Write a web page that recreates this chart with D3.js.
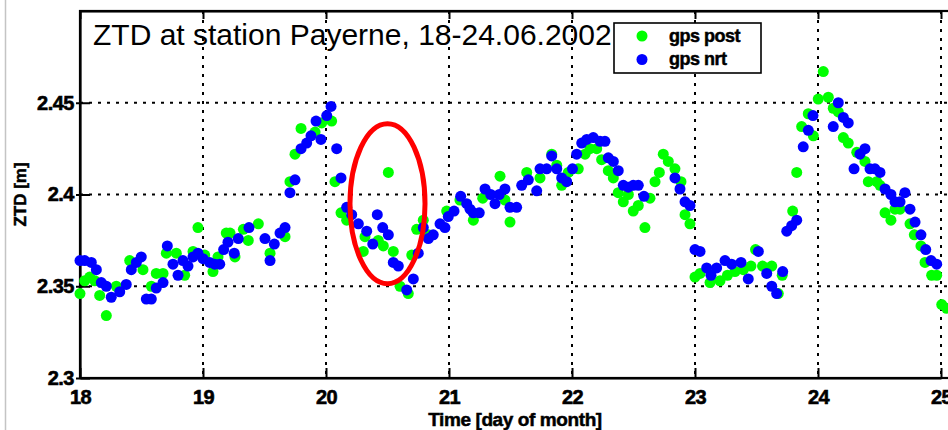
<!DOCTYPE html>
<html>
<head>
<meta charset="utf-8">
<script src="https://cdn.jsdelivr.net/npm/d3@7"></script>
<style>
  body { margin: 0; background: #fff; }
  svg { display: block; font-family: "Liberation Sans", Arial, sans-serif; }
  .tick text { font-weight: bold; font-size: 20px; fill: #000; stroke: #000; stroke-width: 0.6px; letter-spacing: -0.5px; }
  .heavy { stroke: #000; stroke-width: 0.5px; }
  .grid line { stroke: #000; stroke-width: 2; stroke-dasharray: 3,6; }
</style>
</head>
<body>
<div id="chart"></div>
<script>
// ZTD at Payerne, gps post-processed (green) and near-real-time (blue)
var postDay = [18.000,18.038,18.079,18.120,18.160,18.214,18.295,18.404,18.512,18.580,18.620,18.675,18.702,18.783,18.851,18.919,18.959,
  19.014,19.081,19.122,19.189,19.220,19.260,19.328,19.368,19.450,19.545,19.667,19.707,19.748,19.797,19.911,19.965,
  20.046,20.073,20.122,20.168,20.303,20.317,20.425,20.466,20.507,20.547,20.602,20.669,20.697,20.737,20.791,20.832,20.981,
  21.089,21.198,21.274,21.415,21.455,21.496,21.632,21.740,21.835,21.876,21.916,21.970,
  22.051,22.106,22.146,22.201,22.241,22.295,22.336,22.376,22.417,22.458,22.498,22.539,22.593,22.634,22.675,22.710,22.742,22.783,22.837,22.886,22.919,22.959,
  23.000,23.041,23.122,23.203,23.264,23.325,23.393,23.455,23.492,23.549,23.624,23.677,23.709,23.794,23.827,23.867,23.921,23.962,
  24.002,24.043,24.084,24.124,24.165,24.206,24.246,24.315,24.382,24.409,24.477,24.504,24.545,24.593,24.626,24.667,24.748,24.783,24.837,24.870,24.924,24.965,
  25.006,25.046]
var postZtd = [2.346,2.353,2.355,2.353,2.345,2.334,2.350,2.364,2.359,2.350,2.357,2.357,2.368,2.368,2.356,2.369,2.382,
  2.367,2.358,2.366,2.379,2.379,2.366,2.381,2.375,2.384,2.368,2.377,2.407,2.422,2.436,2.434,2.439,
  2.440,2.407,2.390,2.386,2.369,2.377,2.375,2.372,2.412,2.369,2.350,2.346,2.367,2.381,2.386,2.378,2.391,
  2.397,2.386,2.398,2.410,2.397,2.385,2.412,2.409,2.422,2.416,2.405,2.412,
  2.414,2.422,2.425,2.425,2.419,2.413,2.409,2.401,2.396,2.400,2.391,2.394,2.382,2.398,2.407,2.412,2.422,2.418,2.414,2.407,2.389,2.384,
  2.355,2.357,2.352,2.353,2.356,2.358,2.359,2.361,2.370,2.361,2.361,2.346,2.356,2.391,2.412,2.437,2.444,2.432,
  2.452,2.467,2.453,2.447,2.445,2.431,2.428,2.423,2.418,2.407,2.407,2.405,2.390,2.386,2.392,2.392,2.384,2.378,2.372,2.363,2.356,2.356,
  2.340,2.338]

var nrtDay = [18.000,18.038,18.092,18.133,18.173,18.214,18.254,18.323,18.376,18.417,18.458,18.498,18.539,18.580,18.620,18.675,18.710,18.756,18.797,18.837,18.878,18.919,18.959,
  19.000,19.054,19.095,19.136,19.168,19.203,19.254,19.287,19.374,19.504,19.545,19.580,19.626,19.667,19.707,19.748,19.797,19.843,19.878,19.919,19.959,
  20.006,20.041,20.087,20.122,20.168,20.209,20.263,20.331,20.380,20.417,20.461,20.507,20.547,20.588,20.656,20.710,20.750,20.791,20.832,20.872,20.927,20.967,20.994,
  21.041,21.095,21.144,21.171,21.198,21.246,21.293,21.339,21.374,21.409,21.455,21.496,21.550,21.591,21.645,21.713,21.740,21.794,21.835,21.876,21.916,21.957,
  22.004,22.038,22.079,22.120,22.173,22.228,22.268,22.295,22.336,22.376,22.417,22.458,22.498,22.539,22.585,22.837,22.878,22.919,22.959,
  23.000,23.041,23.095,23.130,23.176,23.244,23.298,23.374,23.433,23.515,23.583,23.624,23.664,23.713,23.746,23.786,23.827,23.880,23.921,23.959,
  24.124,24.165,24.206,24.246,24.293,24.341,24.382,24.423,24.463,24.504,24.545,24.593,24.626,24.667,24.707,24.748,24.789,24.837,24.876,24.919,24.965]
var nrtZtd = [2.364,2.364,2.363,2.359,2.352,2.350,2.344,2.347,2.351,2.359,2.363,2.366,2.343,2.343,2.349,2.352,2.372,2.362,2.356,2.364,2.361,2.366,2.368,
  2.365,2.363,2.362,2.362,2.370,2.374,2.368,2.376,2.382,2.376,2.364,2.373,2.379,2.382,2.401,2.408,2.425,2.428,2.432,2.440,2.430,
  2.443,2.448,2.425,2.409,2.393,2.389,2.384,2.380,2.373,2.389,2.382,2.378,2.363,2.361,2.348,2.354,2.368,2.382,2.376,2.378,2.384,2.382,2.388,
  2.391,2.399,2.395,2.392,2.390,2.390,2.403,2.400,2.395,2.400,2.403,2.393,2.393,2.405,2.408,2.402,2.414,2.414,2.421,2.414,2.409,2.407,
  2.414,2.422,2.428,2.430,2.431,2.429,2.429,2.420,2.418,2.413,2.405,2.404,2.405,2.405,2.399,2.409,2.403,2.396,2.394,
  2.370,2.369,2.360,2.356,2.360,2.364,2.362,2.363,2.354,2.369,2.357,2.350,2.346,2.358,2.380,2.383,2.386,2.426,2.435,2.443,
  2.437,2.450,2.442,2.439,2.414,2.422,2.425,2.414,2.414,2.412,2.403,2.400,2.396,2.396,2.401,2.392,2.385,2.378,2.370,2.364,2.362]

var xTicks = [18, 19, 20, 21, 22, 23, 24, 25]
var yTicks = [2.3, 2.35, 2.4, 2.45]
var seriesNames = ["gps post", "gps nrt"]
var seriesColors = ["#00ff00", "#0000ff"]
// red ellipse marking the suspicious period (centre and half-axes in data units)
var markDay = 20.5, markZtd = 2.395, markHalfDay = 0.305, markHalfZtd = 0.0436

var W = 948, H = 430
var plotLeft = 80, plotTop = 11, plotBottom = 378, plotRight = 960
var dotR = 5.5

var svg = d3.select("#chart").append("svg")
  .attr("width", W)
  .attr("height", H)

var x = d3.scaleLinear().domain([18, 25]).range([plotLeft, 941])
var y = d3.scaleLinear().domain([2.3, 2.5]).range([plotBottom, plotTop])

// figure frame edge
svg.append("line")
  .attr("x1", 5.5).attr("x2", 5.5).attr("y1", 0).attr("y2", H)
  .attr("stroke", "#c4c4c4").attr("stroke-width", 1.5)

// grid
var grid = svg.append("g").attr("class", "grid")
grid.selectAll(".gx")
  .data(xTicks.slice(1))
  .enter().append("line")
  .attr("x1", d => x(d)).attr("x2", d => x(d))
  .attr("y1", plotTop).attr("y2", plotBottom)
grid.selectAll(".gy")
  .data(yTicks.slice(1))
  .enter().append("line")
  .attr("y1", d => y(d)).attr("y2", d => y(d))
  .attr("x1", plotLeft).attr("x2", plotRight)

// axes
var xAxis = svg.append("g")
  .attr("transform", "translate(0," + plotBottom + ")")
  .call(d3.axisBottom(x).tickValues(xTicks).tickSize(-10).tickSizeOuter(0).tickPadding(12).tickFormat(d3.format("d")))
var xTop = svg.append("g")
  .attr("transform", "translate(0," + plotTop + ")")
  .call(d3.axisTop(x).tickValues(xTicks).tickSize(-8).tickSizeOuter(0).tickFormat(""))
var yAxis = svg.append("g")
  .attr("transform", "translate(" + plotLeft + ",0)")
  .call(d3.axisLeft(y).tickValues(yTicks).tickSize(-10).tickSizeOuter(0).tickPadding(6).tickFormat(d => String(+d.toFixed(2))))

svg.selectAll(".domain").attr("stroke", "#000").attr("stroke-width", 2.2)
svg.selectAll(".tick line").attr("stroke", "#000").attr("stroke-width", 2)
yAxis.selectAll(".tick line").attr("x1", -4)

// plot box
svg.append("rect")
  .attr("x", plotLeft).attr("y", plotTop)
  .attr("width", plotRight - plotLeft).attr("height", plotBottom - plotTop)
  .attr("fill", "none").attr("stroke", "#000").attr("stroke-width", 2.2)

// points
var post = postDay.map((d, i) => ({day: d, ztd: postZtd[i]}))
var nrt = nrtDay.map((d, i) => ({day: d, ztd: nrtZtd[i]}))

svg.append("g").selectAll("circle")
  .data(post)
  .enter().append("circle")
  .attr("cx", d => x(d.day))
  .attr("cy", d => y(d.ztd))
  .attr("r", dotR)
  .attr("fill", seriesColors[0])

svg.append("g").selectAll("circle")
  .data(nrt)
  .enter().append("circle")
  .attr("cx", d => x(d.day))
  .attr("cy", d => y(d.ztd))
  .attr("r", dotR)
  .attr("fill", seriesColors[1])

// annotation
svg.append("ellipse")
  .attr("cx", x(markDay))
  .attr("cy", y(markZtd))
  .attr("rx", x(markDay + markHalfDay) - x(markDay))
  .attr("ry", y(markZtd - markHalfZtd) - y(markZtd))
  .attr("fill", "none")
  .attr("stroke", "#ff0000")
  .attr("stroke-width", 5)

// title
svg.append("text")
  .attr("x", 93).attr("y", 45)
  .attr("font-size", 30)
  .text("ZTD at station Payerne, 18-24.06.2002")

// axis labels
svg.append("text")
  .attr("class", "heavy")
  .attr("x", 515).attr("y", 426)
  .attr("text-anchor", "middle")
  .attr("font-size", 19).attr("font-weight", "bold")
  .attr("letter-spacing", -0.4)
  .text("Time [day of month]")
svg.append("text")
  .attr("class", "heavy")
  .attr("transform", "translate(26," + ((plotTop + plotBottom) / 2) + ") rotate(-90)")
  .attr("text-anchor", "middle")
  .attr("font-size", 17).attr("font-weight", "bold")
  .text("ZTD [m]")

// legend
var legend = svg.append("g").attr("transform", "translate(614,23)")
legend.append("rect")
  .attr("width", 147).attr("height", 50)
  .attr("fill", "#fff").attr("stroke", "#000").attr("stroke-width", 1.6)
var items = legend.selectAll(".item")
  .data(seriesNames)
  .enter().append("g")
  .attr("transform", (d, i) => "translate(0," + (13 + i * 23.5) + ")")
items.append("circle")
  .attr("cx", 28).attr("r", dotR)
  .attr("fill", (d, i) => seriesColors[i])
items.append("text")
  .attr("class", "heavy")
  .attr("x", 55).attr("y", 5.5)
  .attr("font-size", 18).attr("font-weight", "bold")
  .attr("letter-spacing", -0.5)
  .text(d => d)
</script>
</body>
</html>
